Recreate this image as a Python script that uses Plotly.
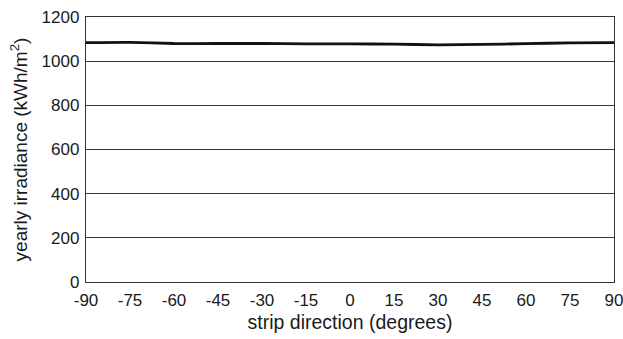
import plotly.graph_objects as go

angles = [-90, -75, -60, -45, -30, -15, 0, 15, 30, 45, 60, 75, 90]
irradiance = [1084, 1085, 1080, 1080, 1080, 1078, 1078, 1077, 1074, 1076, 1079, 1083, 1084]
x_ticks = [-90, -75, -60, -45, -30, -15, 0, 15, 30, 45, 60, 75, 90]
y_ticks = [0, 200, 400, 600, 800, 1000, 1200]

fig = go.Figure()
fig.add_trace(go.Scatter(x=angles, y=irradiance, mode="lines",
                         line=dict(color="#111111", width=2.8, shape="spline", smoothing=0.6),
                         showlegend=False))

fam = "Liberation Sans, Arial, sans-serif"
fig.update_layout(
    width=623, height=339,
    margin=dict(l=86, r=9, t=17, b=57),
    plot_bgcolor="white", paper_bgcolor="white",
    font=dict(family=fam, size=17, color="#1a1a1a"),
    xaxis=dict(range=[-90, 90], tickvals=x_ticks, ticktext=[str(v) for v in x_ticks],
               showgrid=False, zeroline=False, showline=True, linecolor="#333333", linewidth=1.3,
               mirror=True, ticks="", ticklabelstandoff=2, tickfont=dict(size=17),
               ticklabeloverflow="allow", automargin=False,
               title=dict(text="strip direction (degrees)", font=dict(size=19.5), standoff=6)),
    yaxis=dict(range=[0, 1200], tickvals=y_ticks, showgrid=True, gridcolor="#333333", gridwidth=1,
               zeroline=False, showline=True, linecolor="#333333", linewidth=1.3, mirror=True,
               ticks="", ticklabelstandoff=2, tickfont=dict(size=17), automargin=False,
               title=dict(text="yearly irradiance (kWh/m<sup>2</sup>)", font=dict(size=19), standoff=8)),
)
fig.write_html("out.html")
